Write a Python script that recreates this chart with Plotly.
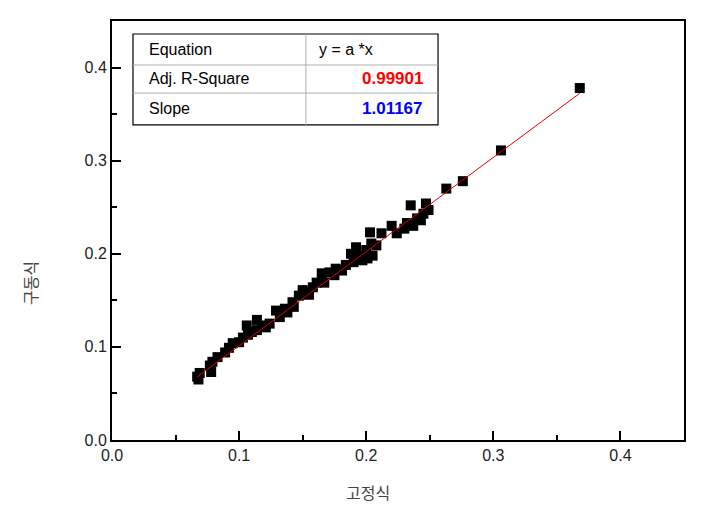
import plotly.graph_objects as go

# Data (고정식 vs 구동식)
x_vals = [0.368, 0.306, 0.276, 0.263, 0.247, 0.235, 0.249, 0.245, 0.243, 0.237,
          0.232, 0.220, 0.224, 0.212, 0.203, 0.204, 0.200, 0.205, 0.201, 0.197,
          0.192, 0.188, 0.184, 0.181, 0.176, 0.171, 0.165, 0.167, 0.161, 0.158,
          0.151, 0.150, 0.147, 0.142, 0.143, 0.136, 0.132, 0.129, 0.124, 0.121,
          0.114, 0.114, 0.106, 0.107, 0.103, 0.100, 0.095, 0.092, 0.083, 0.079,
          0.077, 0.078, 0.069, 0.067, 0.068, 0.089, 0.110, 0.118, 0.138, 0.155,
          0.175, 0.190, 0.194, 0.208, 0.230, 0.240]
y_vals = [0.378, 0.311, 0.278, 0.270, 0.254, 0.252, 0.247, 0.243, 0.236, 0.230,
          0.233, 0.230, 0.222, 0.222, 0.223, 0.211, 0.204, 0.198, 0.195, 0.193,
          0.207, 0.200, 0.188, 0.182, 0.184, 0.180, 0.179, 0.169, 0.169, 0.164,
          0.159, 0.161, 0.155, 0.148, 0.143, 0.141, 0.132, 0.139, 0.125, 0.121,
          0.129, 0.118, 0.123, 0.113, 0.110, 0.105, 0.104, 0.099, 0.089, 0.084,
          0.080, 0.073, 0.072, 0.068, 0.065, 0.094, 0.116, 0.123, 0.137, 0.156,
          0.177, 0.191, 0.198, 0.209, 0.227, 0.238]

slope = 1.01167
adj_r2 = 0.99901
fit_x = [min(x_vals), max(x_vals)]
fit_y = [slope * v for v in fit_x]

x_ticks = [0.0, 0.1, 0.2, 0.3, 0.4]
y_ticks = [0.0, 0.1, 0.2, 0.3, 0.4]
tick_text = ["0.0", "0.1", "0.2", "0.3", "0.4"]

x_title = "고정식"
y_title = "구동식"

table_rows = [("Equation", "y = a *x", "#000000", "normal"),
              ("Adj. R-Square", f"{adj_r2:.5f}", "#ff0000", "bold"),
              ("Slope", f"{slope:.5f}", "#0000ff", "bold")]

fig = go.Figure()
fig.add_trace(go.Scatter(x=x_vals, y=y_vals, mode="markers",
                         marker=dict(symbol="square", size=10, color="#000000",
                                     line=dict(width=0)),
                         showlegend=False))
fig.add_trace(go.Scatter(x=fit_x, y=fit_y, mode="lines",
                         line=dict(color="#e00000", width=1),
                         showlegend=False))

font_main = "Liberation Sans, Arial, sans-serif"
kr_font = "Noto Sans CJK KR, sans-serif"

axis_common = dict(
    showgrid=False, zeroline=False, showline=True, linecolor="#000000",
    linewidth=2, mirror=True, ticks="inside", ticklen=9, tickwidth=1.5,
    tickcolor="#000000", range=[0, 0.45],
    tickfont=dict(family=font_main, size=16, color="#222222"),
    minor=dict(ticks="inside", ticklen=5, tickwidth=1.5, tickcolor="#000000", dtick=0.05),
)

fig.update_xaxes(**axis_common, tickvals=x_ticks, ticktext=tick_text)
fig.update_yaxes(**axis_common, tickvals=y_ticks, ticktext=tick_text)

# Table box (paper coordinates)
L, R, T, B = 0.0367, 0.570, 0.969, 0.752
row_lines = [0.895, 0.828]
col_x = 0.339
shapes = [dict(type="rect", xref="paper", yref="paper", x0=L, x1=R, y0=B, y1=T,
               line=dict(color="#000000", width=1.2), fillcolor="rgba(0,0,0,0)")]
for ry in row_lines:
    shapes.append(dict(type="line", xref="paper", yref="paper", x0=L, x1=R, y0=ry, y1=ry,
                       line=dict(color="#b0b0b0", width=1)))
shapes.append(dict(type="line", xref="paper", yref="paper", x0=col_x, x1=col_x, y0=B, y1=T,
                   line=dict(color="#b0b0b0", width=1)))

row_centers = [0.933, 0.862, 0.790]
annotations = []
for (label, value, color, weight), yc in zip(table_rows, row_centers):
    annotations.append(dict(xref="paper", yref="paper", x=0.0612, y=yc, text=label,
                            showarrow=False, xanchor="left", yanchor="middle",
                            font=dict(family=font_main, size=16, color="#000000")))
    if label == "Equation":
        annotations.append(dict(xref="paper", yref="paper", x=0.358, y=yc, text=value,
                                showarrow=False, xanchor="left", yanchor="middle",
                                font=dict(family=font_main, size=16, color=color)))
    else:
        annotations.append(dict(xref="paper", yref="paper", x=0.547, y=yc,
                                text=f"<b>{value}</b>",
                                showarrow=False, xanchor="right", yanchor="middle",
                                font=dict(family=font_main, size=17, color=color)))

# Axis titles (placed as in the reference, off-centre)
annotations.append(dict(xref="paper", yref="paper", x=0.448, y=-0.124, text=x_title,
                        showarrow=False, xanchor="center", yanchor="middle",
                        font=dict(family=kr_font, size=16, color="#444444")))
annotations.append(dict(xref="paper", yref="paper", x=-0.143, y=0.375, text=y_title,
                        showarrow=False, xanchor="center", yanchor="middle", textangle=-90,
                        font=dict(family=kr_font, size=16, color="#444444")))

fig.update_layout(width=714, height=513,
                  margin=dict(l=104, r=38, t=13, b=81),
                  paper_bgcolor="#ffffff", plot_bgcolor="#ffffff",
                  shapes=shapes, annotations=annotations)

fig.write_html("out.html")
